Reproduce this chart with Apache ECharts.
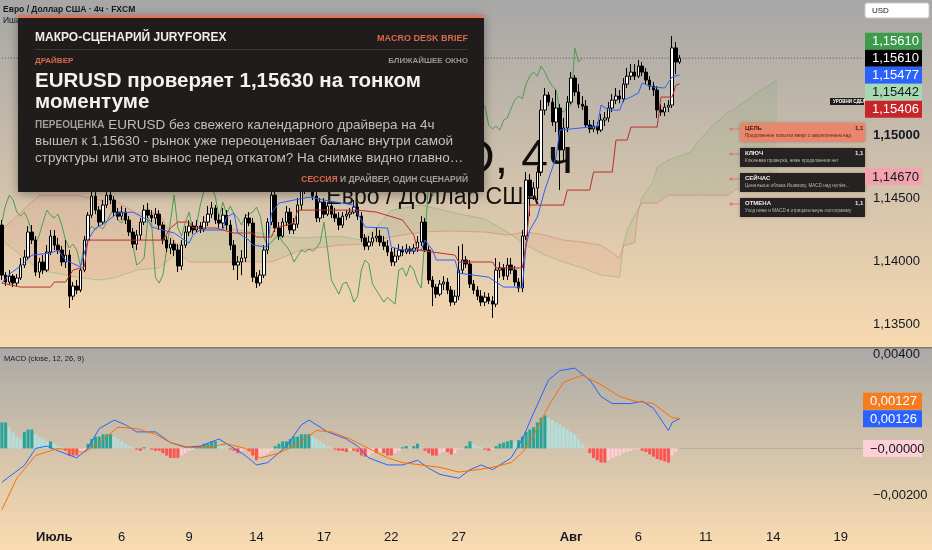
<!DOCTYPE html>
<html><head><meta charset="utf-8">
<script src="https://cdn.jsdelivr.net/npm/echarts@6/dist/echarts.min.js"></script>
<style>html,body{margin:0;padding:0;background:#fff}#c{width:932px;height:550px}</style>
</head><body><div id="c"></div>
<script>
// ---------- DATA ----------
// 4h candles: [open, close, low, high]
const ohlc = [
[1.14285,1.13888,1.13849,1.14325],[1.13888,1.13833,1.13801,1.13912],[1.13833,1.13880,1.13809,1.13928],[1.13880,1.13825,1.13793,1.13896],[1.13825,1.13865,1.13801,1.13896],
[1.13865,1.13968,1.13849,1.14024],[1.13968,1.14031,1.13945,1.14087],[1.14031,1.14230,1.14008,1.14277],[1.14230,1.14166,1.14134,1.14285],[1.14166,1.13912,1.13880,1.14198],
[1.13912,1.13992,1.13865,1.14024],[1.13992,1.13928,1.13896,1.14047],[1.13928,1.14071,1.13912,1.14126],[1.14071,1.14198,1.14047,1.14246],[1.14198,1.14126,1.14087,1.14246],
[1.14126,1.14087,1.14055,1.14183],[1.14087,1.13992,1.13960,1.14118],[1.13992,1.14047,1.13945,1.14166],[1.14047,1.13721,1.13627,1.14087],[1.13721,1.13801,1.13690,1.13833],
[1.13801,1.13769,1.13737,1.13849],[1.13769,1.13928,1.13753,1.13945],[1.13928,1.14166,1.13912,1.14198],[1.14166,1.14364,1.14134,1.14388],[1.14364,1.14515,1.14341,1.14579],
[1.14515,1.14404,1.14372,1.14547],[1.14404,1.14309,1.14277,1.14436],[1.14309,1.14444,1.14285,1.14484],[1.14444,1.14523,1.14421,1.14579],[1.14523,1.14484,1.14452,1.14579],
[1.14484,1.14388,1.14356,1.14515],[1.14388,1.14356,1.14325,1.14421],[1.14356,1.14388,1.14325,1.14436],[1.14388,1.14325,1.14293,1.14421],[1.14325,1.14230,1.14198,1.14356],
[1.14230,1.14134,1.14103,1.14262],[1.14134,1.14206,1.14087,1.14246],[1.14206,1.14309,1.14166,1.14341],[1.14309,1.14404,1.14285,1.14444],[1.14404,1.14364,1.14341,1.14460],
[1.14364,1.14341,1.14309,1.14404],[1.14341,1.14372,1.14293,1.14421],[1.14372,1.14285,1.14246,1.14404],[1.14285,1.14166,1.14134,1.14309],[1.14166,1.14103,1.14071,1.14198],
[1.14103,1.14134,1.14055,1.14183],[1.14134,1.14087,1.14039,1.14166],[1.14087,1.13960,1.13912,1.14134],[1.13960,1.14126,1.13928,1.14166],[1.14126,1.14230,1.14103,1.14277],
[1.14230,1.14277,1.14198,1.14325],[1.14277,1.14246,1.14214,1.14309],[1.14246,1.14277,1.14230,1.14325],[1.14277,1.14254,1.14222,1.14309],[1.14254,1.14309,1.14230,1.14356],
[1.14309,1.14372,1.14277,1.14436],[1.14372,1.14421,1.14341,1.14468],[1.14421,1.14325,1.14293,1.14444],[1.14325,1.14301,1.14262,1.14372],[1.14301,1.14364,1.14262,1.14421],
[1.14364,1.14285,1.14246,1.14404],[1.14285,1.14126,1.14087,1.14325],[1.14126,1.13968,1.13928,1.14166],[1.13968,1.13992,1.13849,1.14039],[1.13992,1.14024,1.13888,1.14087],
[1.14024,1.14341,1.13992,1.14372],[1.14341,1.14301,1.14277,1.14388],[1.14301,1.13872,1.13833,1.14341],[1.13872,1.13825,1.13786,1.13912],[1.13825,1.13888,1.13801,1.13928],
[1.13888,1.14087,1.13865,1.14126],[1.14087,1.14309,1.14055,1.14341],[1.14309,1.14523,1.14285,1.14579],[1.14523,1.14262,1.14230,1.14563],[1.14262,1.14198,1.14166,1.14309],
[1.14198,1.14309,1.14183,1.14341],[1.14309,1.14388,1.14277,1.14436],[1.14388,1.14246,1.14214,1.14421],[1.14246,1.14293,1.14214,1.14341],[1.14293,1.14444,1.14262,1.14500],
[1.14444,1.14563,1.14404,1.14642],[1.14563,1.14626,1.14531,1.14682],[1.14626,1.14579,1.14547,1.14674],[1.14579,1.14515,1.14484,1.14642],[1.14515,1.14341,1.14309,1.14563],
[1.14341,1.14468,1.14309,1.14500],[1.14468,1.14372,1.14341,1.14500],[1.14372,1.14436,1.14356,1.14468],[1.14436,1.14372,1.14341,1.14468],[1.14372,1.14341,1.14309,1.14421],
[1.14341,1.14285,1.14246,1.14388],[1.14285,1.14356,1.14262,1.14388],[1.14356,1.14372,1.14325,1.14404],[1.14372,1.14388,1.14341,1.14421],[1.14388,1.14428,1.14372,1.14484],
[1.14428,1.14356,1.14325,1.14460],[1.14356,1.14183,1.14150,1.14388],[1.14183,1.14118,1.14087,1.14214],[1.14118,1.14150,1.14087,1.14198],[1.14150,1.14183,1.14118,1.14230],
[1.14183,1.14198,1.14150,1.14262],[1.14198,1.14150,1.14118,1.14246],[1.14150,1.14118,1.14087,1.14198],[1.14118,1.14071,1.14039,1.14166],[1.14071,1.13992,1.13960,1.14103],
[1.13992,1.14039,1.13960,1.14103],[1.14039,1.14087,1.14008,1.14134],[1.14087,1.14071,1.14039,1.14118],[1.14071,1.14095,1.14055,1.14134],[1.14095,1.14079,1.14055,1.14118],
[1.14079,1.14103,1.14055,1.14134],[1.14103,1.14150,1.14071,1.14198],[1.14150,1.14309,1.14118,1.14356],[1.14309,1.14087,1.14071,1.14341],[1.14087,1.13849,1.13817,1.14118],
[1.13849,1.13793,1.13642,1.13880],[1.13793,1.13737,1.13706,1.13817],[1.13737,1.13817,1.13721,1.13849],[1.13817,1.13833,1.13769,1.13880],[1.13833,1.13769,1.13737,1.13865],
[1.13769,1.13674,1.13642,1.13801],[1.13674,1.13721,1.13650,1.13769],[1.13721,1.13928,1.13690,1.14118],[1.13928,1.14008,1.13896,1.14134],[1.14008,1.13976,1.13945,1.14039],
[1.13976,1.13817,1.13786,1.14008],[1.13817,1.13769,1.13737,1.13849],[1.13769,1.13721,1.13690,1.13801],[1.13721,1.13674,1.13642,1.13769],[1.13674,1.13713,1.13642,1.13753],
[1.13713,1.13682,1.13658,1.13745],[1.13682,1.13658,1.13548,1.13721],[1.13658,1.13928,1.13634,1.14024],[1.13928,1.13945,1.13865,1.13992],[1.13945,1.13880,1.13849,1.13976],
[1.13880,1.13968,1.13849,1.14024],[1.13968,1.13928,1.13896,1.14024],[1.13928,1.13833,1.13801,1.13960],[1.13833,1.13786,1.13753,1.13865],[1.13786,1.14198,1.13753,1.14246],
[1.14198,1.14642,1.14166,1.14706],[1.14642,1.14515,1.14356,1.14690],[1.14515,1.14579,1.14484,1.14626],[1.14579,1.14706,1.14484,1.14753],[1.14706,1.15198,1.14674,1.15277],
[1.15198,1.15317,1.15158,1.15373],[1.15317,1.15261,1.15229,1.15341],[1.15261,1.15103,1.15071,1.15294],[1.15103,1.15214,1.15023,1.15357],[1.15214,1.14881,1.14563,1.15245],
[1.14881,1.15056,1.14801,1.15135],[1.15056,1.15261,1.15023,1.15309],[1.15261,1.15452,1.15245,1.15499],[1.15452,1.15341,1.15309,1.15475],[1.15341,1.15245,1.15214,1.15404],
[1.15245,1.15229,1.15198,1.15309],[1.15229,1.15079,1.15056,1.15277],[1.15079,1.15048,1.15015,1.15119],[1.15048,1.15071,1.15023,1.15119],[1.15071,1.15039,1.15007,1.15103],
[1.15039,1.15119,1.15023,1.15166],[1.15119,1.15135,1.15071,1.15182],[1.15135,1.15214,1.15103,1.15261],[1.15214,1.15277,1.15182,1.15325],[1.15277,1.15309,1.15245,1.15373],
[1.15309,1.15286,1.15253,1.15357],[1.15286,1.15404,1.15261,1.15452],[1.15404,1.15467,1.15373,1.15532],[1.15467,1.15499,1.15436,1.15563],[1.15499,1.15467,1.15436,1.15563],
[1.15467,1.15547,1.15452,1.15595],[1.15547,1.15499,1.15467,1.15579],[1.15499,1.15436,1.15404,1.15532],[1.15436,1.15388,1.15357,1.15467],[1.15388,1.15357,1.15309,1.15420],
[1.15357,1.15198,1.15135,1.15388],[1.15198,1.15182,1.15150,1.15245],[1.15182,1.15221,1.15150,1.15253],[1.15221,1.15237,1.15182,1.15277],[1.15237,1.15691,1.15214,1.15785],
[1.15691,1.15579,1.15483,1.15738],[1.15579,1.15610,1.15563,1.15634]
];
const futureBars = 49;
const chikouShift = 26;

// Ichimoku lines, read as vertices [bar index, price]
const tenkanIdx = [0,2,5,8,13,15,17,21,23,25,27,31,35,39,40,46,50,51,53,59,60,62,63,66,67,71,72,74,82,86,94,95,97,103,104,107,112,113,115,116,121,122,130,134,139,140,141,143,145,148,149,157,159,160,162,165,166,168,170,171,174,177,179,181];
const tenkanVal = [1.13825,1.13896,1.13960,1.14047,1.14063,1.14087,1.14008,1.13952,1.14166,1.14262,1.14293,1.14380,1.14388,1.14325,1.14270,1.14222,1.14142,1.14206,1.14246,1.14246,1.14348,1.14380,1.14222,1.14166,1.14126,1.14110,1.14380,1.14460,1.14507,1.14484,1.14444,1.14380,1.14269,1.14262,1.14110,1.14087,1.14087,1.14166,1.14087,1.14008,1.14008,1.13904,1.13872,1.13793,1.13793,1.14126,1.14246,1.14348,1.14563,1.14825,1.15039,1.15063,1.15063,1.15238,1.15198,1.15198,1.15277,1.15301,1.15333,1.15412,1.15380,1.15373,1.15460,1.15477];
const kijunIdx = [0,5,13,14,17,19,22,23,43,45,47,50,51,57,62,67,68,72,73,78,79,95,100,107,110,111,121,122,131,132,139,140,141,150,151,157,158,163,164,167,168,175,176,179,180,181];
const kijunVal = [1.13825,1.13793,1.13793,1.13833,1.13833,1.13928,1.13952,1.14166,1.14166,1.14262,1.14309,1.14309,1.14262,1.14262,1.14222,1.14222,1.14190,1.14190,1.14262,1.14301,1.14404,1.14404,1.14388,1.14325,1.14206,1.14087,1.14047,1.13992,1.13992,1.13945,1.13945,1.14142,1.14444,1.14444,1.14563,1.14563,1.14706,1.14706,1.14960,1.14960,1.15063,1.15063,1.15301,1.15301,1.15396,1.15406];
const cloudIdx = [0,10,20,26,30,36,42,46,48,50,60,72,80,90,96,100,104,112,120,129,135,140,145,150,155,160,165,166,167,169,170,171,174,175,178,184,186,190,194,196,202,205,207];
const senkouA = [1.14166,1.13928,1.13872,1.13849,1.13865,1.13928,1.13945,1.14047,1.14166,1.14230,1.14262,1.14206,1.14183,1.14198,1.14166,1.14262,1.14404,1.14444,1.14388,1.14333,1.14230,1.14126,1.14047,1.13992,1.13945,1.13888,1.13872,1.14134,1.14246,1.14364,1.14404,1.14507,1.14634,1.14746,1.14801,1.14865,1.14952,1.15079,1.15182,1.15214,1.15341,1.15396,1.15442];
const senkouB = [1.14246,1.14523,1.14523,1.14484,1.14484,1.14380,1.14380,1.14166,1.14047,1.13992,1.13992,1.13992,1.14087,1.14126,1.14134,1.14166,1.14190,1.14230,1.14238,1.14230,1.14206,1.14230,1.14206,1.14166,1.14150,1.14126,1.14024,1.14126,1.14126,1.14150,1.14412,1.14460,1.14460,1.14460,1.14523,1.14523,1.14523,1.14523,1.14523,1.14571,1.14571,1.14706,1.14670];

// MACD (12, 26, 9)
const macdIdx = [0,6,9,12,15,20,23,26,30,33,36,41,45,49,53,58,61,65,68,71,76,80,82,87,92,95,98,103,107,111,114,117,122,125,128,131,136,139,142,146,149,153,157,160,163,168,171,174,178,179,181];
const macdVal = [-0.00143,-0.00072,0,0.0001,-0.0001,-0.0004,0,0.00084,0.0012,0.001,0.0007,0.0007,0.00025,0.00005,0.0001,0.0004,0.0001,-0.0003,-0.0007,-0.0006,0.0001,0.001,0.0012,0.0007,0.0004,0.0001,-0.0004,-0.0007,-0.0007,-0.0005,-0.00084,-0.0011,-0.00126,-0.0009,-0.0007,-0.0009,-0.0004,0.0004,0.0015,0.0029,0.0033,0.0034,0.0029,0.0022,0.0019,0.0019,0.002,0.0017,0.00076,0.0011,0.00126];
const sigIdx = [0,4,9,15,22,26,31,36,41,45,50,55,60,65,69,74,79,84,88,93,98,103,107,112,117,122,127,131,136,139,142,146,150,155,160,165,169,174,179,181];
const sigVal = [-0.0026,-0.00126,-0.0003,0,-0.00017,0.00025,0.0009,0.00084,0.0006,0.00025,0.00004,0.00004,0.0002,0,-0.0004,-0.0002,0.0002,0.00076,0.0007,0.0004,0,-0.0004,-0.0006,-0.0007,-0.0008,-0.001,-0.0009,-0.0008,-0.0006,-0.00017,0.00055,0.0018,0.0028,0.0031,0.0027,0.0022,0.002,0.0019,0.0013,0.00127];
const hist = [0.0011,0.0011,0.0009,0.0007,0.0005,0.0004,0.0007,0.0008,0.0008,0.0006,
0.0005,0.0004,0.0003,0.0003,0.0002,0.0001,0.00005,-0.0001,-0.0003,-0.0003,
-0.0003,-0.0002,-0.0001,0.0002,0.0004,0.0005,0.0005,0.0006,0.0006,0.0006,
0.0005,0.0004,0.0003,0.0002,0.0001,0.00005,-0.00005,-0.0001,0.00005,0.00003,
-0.00005,-0.0001,-0.0001,-0.0002,-0.0003,-0.0004,-0.0004,-0.0004,-0.0003,-0.0002,
-0.0001,-0.00005,0.00005,0.0001,0.0002,0.0002,0.0003,0.0003,0.0002,0.0001,
0.00005,-0.00005,-0.0001,-0.0002,-0.0001,-0.00005,-0.0001,-0.0003,-0.0005,-0.0004,
-0.0003,-0.0002,-0.0001,0.0001,0.0002,0.0003,0.0003,0.0004,0.0005,0.0005,
0.0006,0.0006,0.0006,0.0005,0.0004,0.0003,0.0002,0.0001,0.00005,-0.00005,
-0.0001,-0.0001,-0.00015,-0.0001,-0.0001,-0.00015,-0.0003,-0.00035,-0.0003,-0.0002,
-0.0002,-0.00015,-0.0002,-0.0003,-0.0003,-0.0002,-0.0001,0.00005,0.0001,0.00005,
0.0001,0.0002,0.00005,-0.0001,-0.0002,-0.0003,-0.0003,-0.0002,-0.00015,-0.00015,
-0.00025,-0.0002,-0.00005,-0.00003,0.0001,0.0003,0.0002,0.0001,0.00005,-0.00005,
-0.0001,-0.00005,0.0001,0.0002,0.00025,0.0003,0.00035,0.0003,0.00035,0.0005,
0.0007,0.0008,0.0009,0.0011,0.0013,0.0014,0.0013,0.0012,0.0011,0.001,
0.0009,0.0008,0.0007,0.0006,0.0004,0.0002,0.00005,-0.0002,-0.0004,-0.0005,
-0.0006,-0.0006,-0.0005,-0.0004,-0.00035,-0.0003,-0.0002,-0.00015,-0.0001,-0.00005,
-0.00003,-0.0001,-0.00015,-0.00025,-0.00035,-0.00045,-0.0005,-0.00055,-0.0006,-0.0003,
-0.00015,-0.000004];

// axes / ticks
const priceTicks = [1.135, 1.14, 1.145, 1.15];
const macdTicks = [0.004, -0.002];
const xTickIdx = [14, 32, 50, 68, 86, 104, 122, 152, 170, 188, 206, 224];
const xTickText = ['Июль', '6', '9', '14', '17', '22', '27', 'Авг', '6', '11', '14', '19'];

// price tags on the right scale (top to bottom)
const mainTagVals = [1.15610, 1.15610, 1.15477, 1.15442, 1.15406, 1.14670];
const mainTagBg = ['#3e9b4a', '#000000', '#2962ff', '#a8d8b1', '#c8252a', '#f3a3ad'];
const mainTagFg = ['#ffffff', '#ffffff', '#ffffff', '#131722', '#ffffff', '#131722'];
const macdTagVals = [0.00127, 0.00126, -0.000004];
const macdTagBg = ['#f57c1f', '#2962ff', '#fdcfd6'];
const macdTagFg = ['#ffffff', '#ffffff', '#131722'];

// texts
const headerTitle = 'Евро / Доллар США · 4ч · FXCM';
const headerInd = 'Ишимоку (9, 26, 52, 26)';
const macdLegend = 'MACD (close, 12, 26, 9)';
const wmMain = 'EURUSD, 4ч';
const wmSub = 'Евро / Доллар США';
const cardHead = 'МАКРО-СЦЕНАРИЙ JURYFOREX';
const cardTag = 'MACRO DESK BRIEF';
const cardKicker = 'ДРАЙВЕР';
const cardWindow = 'БЛИЖАЙШЕЕ ОКНО';
const cardTitle = ['EURUSD проверяет 1,15630 на тонком', 'моментуме'];
const cardLead = 'ПЕРЕОЦЕНКА';
const cardBody = [' EURUSD без свежего календарного драйвера на 4ч', 'вышел к 1,15630 - рынок уже переоценивает баланс внутри самой', 'структуры или это вынос перед откатом? На снимке видно главно…'];
const cardFootA = 'СЕССИЯ';
const cardFootB = ' И ДРАЙВЕР, ОДИН СЦЕНАРИЙ';
const annoHeader = 'УРОВНИ СДЕЛКИ';
const annoTitles = ['ЦЕЛЬ', 'КЛЮЧ', 'СЕЙЧАС', 'ОТМЕНА'];
const annoTexts = ['Продолжение попытки вверх с закреплением над', 'Ключевая проверка, ниже продолжения нет', 'Цена выше облака Ишимоку, MACD над нулём...', 'Уход ниже и MACD в отрицательную гистограмму'];
const annoValues = ['1,1', '1,1', '', '1,1'];

// ---------- CHART ----------
const FONT = '"Liberation Sans", Arial, sans-serif';
const W = 932, H = 550, AXW = 67;
const nCats = ohlc.length + futureBars;
const cats = Array.from({length: nCats}, (_, k) => String(k));
const pairs = (ix, vs) => ix.map((x, k) => [x, vs[k]]);
const fmt = v => v.toFixed(5).replace('.', ',').replace('-', '\u2212');
const lastIdx = ohlc.length - 1;
const lastClose = ohlc[lastIdx][1];
const chikou = ohlc.map((d, k) => [k - chikouShift, d[1]]).filter(p => p[0] >= 0);
const cloudData = cloudIdx.map((x, k) => [x, senkouA[k], senkouB[k]]);
const histData = hist.map((v, k) => {
  const prev = k > 0 ? hist[k - 1] : v;
  let c;
  if (v >= 0) c = v >= prev ? '#26a69a' : '#b2dfdb';
  else c = v <= prev ? '#ff5252' : '#ffcdd2';
  return {value: v, itemStyle: {color: c}};
});

const chart = echarts.init(document.getElementById('c'), null, {width: W, height: H});
const axisLbl = {color: '#131722', fontSize: 13, fontFamily: FONT};
const noLine = {symbol: 'none', showSymbol: false, silent: true, emphasis: {disabled: true}};

chart.setOption({
  animation: false,
  backgroundColor: '#ffffff',
  grid: [
    {left: 0, right: AXW, top: 0, height: 347, containLabel: false, outerBoundsMode: 'none'},
    {left: 0, right: AXW, top: 349, height: 171, containLabel: false, outerBoundsMode: 'none'}
  ],
  xAxis: [
    {type: 'category', gridIndex: 0, data: cats, boundaryGap: true, axisLine: {show: false}, axisTick: {show: false}, axisLabel: {show: false}, splitLine: {show: false}},
    {type: 'category', gridIndex: 1, data: cats, boundaryGap: true, axisLine: {show: false}, axisTick: {show: false}, splitLine: {show: false},
      axisLabel: Object.assign({}, axisLbl, {
        margin: 11,
        interval: (i) => xTickIdx.indexOf(i) >= 0,
        formatter: (v, i) => { const t = xTickText[xTickIdx.indexOf(i)] || ''; return isNaN(+t) ? '{b|' + t + '}' : t; },
        rich: {b: {fontWeight: 'bold', fontSize: 13, color: '#131722', fontFamily: FONT}}
      })}
  ],
  yAxis: [
    {type: 'value', gridIndex: 0, position: 'right', min: 1.133175, max: 1.160714, splitLine: {show: false}, axisLine: {show: false}, axisTick: {show: false},
      axisLabel: Object.assign({}, axisLbl, {margin: 8, customValues: priceTicks,
        formatter: v => Math.abs(v - 1.15) < 1e-9 ? '{b|' + fmt(v) + '}' : fmt(v),
        rich: {b: {fontWeight: 'bold', fontSize: 13, color: '#131722', fontFamily: FONT}}})},
    {type: 'value', gridIndex: 1, position: 'right', min: -0.00303, max: 0.00421, splitLine: {show: false}, axisLine: {show: false}, axisTick: {show: false},
      axisLabel: Object.assign({}, axisLbl, {margin: 8, customValues: macdTicks, formatter: v => fmt(v)})}
  ],
  series: [
    {type: 'custom', name: 'kumo', xAxisIndex: 0, yAxisIndex: 0, data: cloudData, encode: {x: 0, y: 1}, silent: true, z: 1, clip: true,
      renderItem: function (params, api) {
        const k = params.dataIndex;
        if (k >= cloudData.length - 1) return null;
        const a = cloudData[k], b = cloudData[k + 1];
        const pts = [api.coord([a[0], a[1]]), api.coord([b[0], b[1]]), api.coord([b[0], b[2]]), api.coord([a[0], a[2]])];
        const green = (a[1] + b[1]) >= (a[2] + b[2]);
        return {type: 'polygon', shape: {points: pts}, style: {fill: green ? 'rgba(76,160,80,0.09)' : 'rgba(230,90,80,0.08)'}};
      }},
    Object.assign({type: 'line', name: 'senkouA', xAxisIndex: 0, yAxisIndex: 0, data: pairs(cloudIdx, senkouA), z: 2, lineStyle: {color: 'rgba(67,160,71,0.3)', width: 1}}, noLine),
    Object.assign({type: 'line', name: 'senkouB', xAxisIndex: 0, yAxisIndex: 0, data: pairs(cloudIdx, senkouB), z: 2, lineStyle: {color: 'rgba(229,57,53,0.3)', width: 1}}, noLine),
    Object.assign({type: 'line', name: 'chikou', xAxisIndex: 0, yAxisIndex: 0, data: chikou, z: 3, lineStyle: {color: '#4a9f50', width: 1}}, noLine),
    Object.assign({type: 'line', name: 'lastPrice', xAxisIndex: 0, yAxisIndex: 0, data: [[0, lastClose], [nCats - 1, lastClose]], z: 3, lineStyle: {color: '#555555', type: [1, 2], width: 1}}, noLine),
    {type: 'candlestick', name: 'EURUSD', xAxisIndex: 0, yAxisIndex: 0, data: ohlc, barWidth: 3, z: 4, silent: true,
      itemStyle: {color: '#ffffff', color0: '#000000', borderColor: '#000000', borderColor0: '#000000', borderWidth: 1}},
    Object.assign({type: 'line', name: 'tenkan', xAxisIndex: 0, yAxisIndex: 0, data: pairs(tenkanIdx, tenkanVal), z: 5, lineStyle: {color: '#2962ff', width: 1}}, noLine),
    Object.assign({type: 'line', name: 'kijun', xAxisIndex: 0, yAxisIndex: 0, data: pairs(kijunIdx, kijunVal), z: 5, lineStyle: {color: '#b8312c', width: 1}}, noLine),
    {type: 'bar', name: 'hist', xAxisIndex: 1, yAxisIndex: 1, data: histData, barWidth: 3, z: 2, silent: true},
    Object.assign({type: 'line', name: 'zero', xAxisIndex: 1, yAxisIndex: 1, data: [[lastIdx, 0], [nCats - 1, 0]], z: 2, lineStyle: {color: '#8a8580', type: [1, 2], width: 1}}, noLine),
    Object.assign({type: 'line', name: 'macd', xAxisIndex: 1, yAxisIndex: 1, data: pairs(macdIdx, macdVal), z: 3, lineStyle: {color: '#2962ff', width: 1}}, noLine),
    Object.assign({type: 'line', name: 'signal', xAxisIndex: 1, yAxisIndex: 1, data: pairs(sigIdx, sigVal), z: 3, lineStyle: {color: '#ff6d00', width: 1}}, noLine)
  ]
});

// ---------- OVERLAYS ----------
const gridRight = W - AXW;
function T(x, y, text, o) {
  return Object.assign({type: 'text', x: x, y: y, z: (o && o.z) || 100, silent: true,
    style: Object.assign({text: text, fontFamily: FONT, fontSize: 12, fill: '#131722', align: 'left', verticalAlign: 'middle'}, (o && o.style) || {})});
}
function R(x, y, w, h, fill, z, extra) {
  return {type: 'rect', z: z, silent: true, shape: {x: x, y: y, width: w, height: h, r: (extra && extra.r) || 0},
    style: Object.assign({fill: fill}, (extra && extra.style) || {})};
}
function layoutTags(vals, axisIdx, anchor, h) {
  const ys = vals.map(v => chart.convertToPixel({yAxisIndex: axisIdx}, v));
  for (let k = anchor + 1; k < ys.length; k++) ys[k] = Math.max(ys[k], ys[k - 1] + h);
  for (let k = anchor - 1; k >= 0; k--) ys[k] = Math.min(ys[k], ys[k + 1] - h);
  return ys;
}
const els = [];
// pane backgrounds
els.push(R(0, 0, W, 348, new echarts.graphic.LinearGradient(0, 0, 0, 1, [{offset: 0, color: '#a7a7a7'}, {offset: 1, color: '#f8dab0'}]), -10));
els.push(R(0, 348, W, H - 348, new echarts.graphic.LinearGradient(0, 0, 0, 1, [{offset: 0, color: '#aaa9a6'}, {offset: 1, color: '#fadcb0'}]), -10));
els.push(R(0, 347, W, 1.5, '#7f7a74', 6));
// watermark
els.push(T(gridRight / 2, 160, wmMain, {z: 1, style: {fontSize: 48, fill: 'rgba(0,0,0,0.92)', align: 'center'}}));
els.push(T(gridRight / 2, 198, wmSub, {z: 1, style: {fontSize: 23, fill: 'rgba(0,0,0,0.92)', align: 'center'}}));
// legends
els.push(T(3, 9.5, headerTitle, {z: 8, style: {fontSize: 8.5, fontWeight: 'bold'}}));
els.push(T(3, 20.5, headerInd, {z: 8, style: {fontSize: 8.5}}));
els.push(T(4, 359, macdLegend, {z: 8, style: {fontSize: 7.5}}));
// card
els.push(R(18, 15, 466, 177, '#1f1c1b', 100, {style: {shadowBlur: 10, shadowColor: 'rgba(0,0,0,0.35)', shadowOffsetY: 2}}));
els.push(R(18, 15, 466, 3, '#e0765c', 101));
els.push(T(35, 38, cardHead, {z: 102, style: {fontSize: 12, fontWeight: 'bold', fill: '#f1ece7'}}));
els.push(T(468, 38.5, cardTag, {z: 102, style: {fontSize: 9, fontWeight: 'bold', fill: '#d8694d', align: 'right'}}));
els.push(R(35, 49, 433, 1, '#3b3735', 101));
els.push(T(35, 61, cardKicker, {z: 102, style: {fontSize: 8, fontWeight: 'bold', fill: '#d8694d'}}));
els.push(T(468, 61, cardWindow, {z: 102, style: {fontSize: 8, fontWeight: 'bold', fill: '#9d958f', align: 'right'}}));
els.push(T(35, 81, cardTitle[0], {z: 102, style: {fontSize: 20.5, fontWeight: 'bold', fill: '#f4f1ee'}}));
els.push(T(35, 102, cardTitle[1], {z: 102, style: {fontSize: 20.5, fontWeight: 'bold', fill: '#f4f1ee'}}));
els.push(T(35, 125, '{a|' + cardLead + '}{b|' + cardBody[0] + '}', {z: 102, style: {rich: {
  a: {fontSize: 10, fontWeight: 'bold', fill: '#a59e97', fontFamily: FONT},
  b: {fontSize: 13.5, fill: '#c6bfb9', fontFamily: FONT}}}}));
els.push(T(35, 141.5, cardBody[1], {z: 102, style: {fontSize: 13.5, fill: '#c6bfb9'}}));
els.push(T(35, 158, cardBody[2], {z: 102, style: {fontSize: 13.5, fill: '#c6bfb9'}}));
els.push(T(468, 180, '{a|' + cardFootA + '}{b|' + cardFootB + '}', {z: 102, style: {align: 'right', rich: {
  a: {fontSize: 8.5, fontWeight: 'bold', fill: '#d8694d', fontFamily: FONT},
  b: {fontSize: 8.5, fontWeight: 'bold', fill: '#a59e97', fontFamily: FONT}}}}));
// right-hand annotation boxes
els.push(R(830, 98, 34, 7, '#1e1c1b', 90));
els.push(T(833, 101.5, annoHeader, {z: 91, style: {fontSize: 4.5, fontWeight: 'bold', fill: '#ffffff'}}));
annoTitles.forEach((t, k) => {
  const top = 123 + k * 25;
  const hot = k === 0;
  els.push({type: 'line', z: 89, silent: true, shape: {x1: 731, y1: top + 6, x2: 740, y2: top + 6}, style: {stroke: '#e57373', lineWidth: 1}});
  els.push({type: 'circle', z: 89, silent: true, shape: {cx: 731, cy: top + 6, r: 1.5}, style: {fill: '#e57373'}});
  els.push(R(740, top, gridRight - 740, 19, hot ? '#e9866b' : '#252221', 90, {style: {shadowBlur: 3, shadowColor: 'rgba(0,0,0,0.25)'}}));
  els.push(T(745, top + 5.5, t, {z: 91, style: {fontSize: 6, fontWeight: 'bold', fill: hot ? '#3d1c12' : '#f0ece8'}}));
  if (annoValues[k]) els.push(T(855, top + 5.5, annoValues[k], {z: 91, style: {fontSize: 6, fontWeight: 'bold', fill: hot ? '#3d1c12' : '#f0ece8'}}));
  els.push(T(745, top + 12.5, annoTexts[k], {z: 91, style: {fontSize: 4.6, fill: hot ? '#5c2a1b' : '#bdb6b0'}}));
});
// price tags
const mainYs = layoutTags(mainTagVals, 0, 1, 17);
mainTagVals.forEach((v, k) => {
  els.push(R(gridRight, mainYs[k] - 8.5, 57, 17, mainTagBg[k], 110));
  els.push(T(gridRight + 7, mainYs[k] + 0.5, fmt(v), {z: 111, style: {fontSize: 13, fill: mainTagFg[k]}}));
});
const macdYs = layoutTags(macdTagVals, 1, 1, 17.5);
macdTagVals.forEach((v, k) => {
  els.push(R(gridRight - 2, macdYs[k] - 8.5, 59, 17, macdTagBg[k], 110));
  els.push(T(gridRight + 5, macdYs[k] + 0.5, fmt(v), {z: 111, style: {fontSize: 13, fill: macdTagFg[k]}}));
});
// currency box
els.push(R(865, 3, 64, 15, '#ffffff', 110, {r: 2, style: {stroke: '#c9c9c9', lineWidth: 1}}));
els.push(T(872, 10.5, 'USD', {z: 111, style: {fontSize: 8, fill: '#131722'}}));

chart.setOption({graphic: {elements: els}});
</script>
</body></html>
